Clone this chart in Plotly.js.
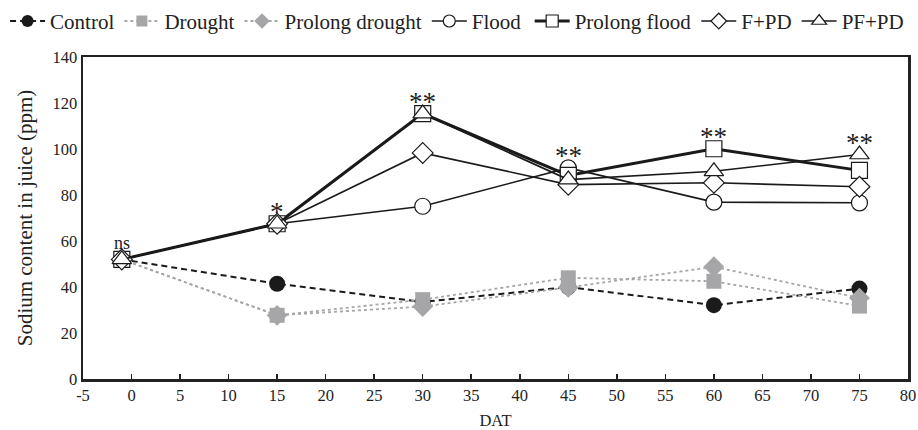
<!DOCTYPE html>
<html><head><meta charset="utf-8">
<script src="https://cdn.plot.ly/plotly-3.0.1.min.js"></script>
<style>html,body{margin:0;padding:0;background:#fff}#chart{width:918px;height:430px}</style>
</head><body><div id="chart"></div>
<script>
const dat = [-1, 15, 30, 45, 60, 75];
const control = [52, 41.4, 33.5, 40, 32.1, 39.3];
const drought = [52, 27.7, 34.5, 44, 42.5, 31.7];
const prolongDrought = [52, 27.7, 31.5, 39.8, 48.8, 35.2];
const flood = [52, 67.5, 75.1, 91.8, 76.9, 76.6];
const prolongFlood = [52, 67.5, 115.4, 88.5, 100.1, 90.7];
const fpd = [52, 67.5, 98.3, 84.5, 85.3, 83.6];
const pfpd = [52, 67.5, 115.4, 86.7, 90.3, 97.6];
const seriesNames = ['Control', 'Drought', 'Prolong drought', 'Flood', 'Prolong flood', 'F+PD', 'PF+PD'];
const sigLabels = ['ns', '*', '**', '**', '**', '**'];
const xTickVals = [-5,0,5,10,15,20,25,30,35,40,45,50,55,60,65,70,75,80];
const xTickText = ['-5','0','5','10','15','20','25','30','35','40','45','50','55','60','65','70','75','80'];

const font = 'Liberation Serif, Times New Roman, serif';
const grey = '#a6a6a8';
const ink = '#1a1a1a';
const styles = [
  {line:{color:ink, width:2, dash:'6px,4px'}, marker:{symbol:'circle', size:16, color:ink}},
  {line:{color:grey, width:1.8, dash:'dot'}, marker:{symbol:'square', size:15, color:grey}},
  {line:{color:grey, width:1.8, dash:'dot'}, marker:{symbol:'diamond', size:16, color:grey}},
  {line:{color:ink, width:1.6}, marker:{symbol:'circle', size:16, color:'#fff', line:{color:ink, width:1.2}}},
  {line:{color:ink, width:3}, marker:{symbol:'square', size:16, color:'#fff', line:{color:ink, width:1.2}}},
  {line:{color:ink, width:1.6}, marker:{symbol:'diamond', size:16, color:'#fff', line:{color:ink, width:1.2}}},
  {line:{color:ink, width:1.6}, marker:{symbol:'triangle-up', size:17, color:'#fff', line:{color:ink, width:1.2}}}
];
const groups = [control, drought, prolongDrought, flood, prolongFlood, fpd, pfpd];
const traces = groups.map((g, k) => ({
  x: dat, y: g, name: seriesNames[k], type: 'scatter', mode: 'lines+markers',
  line: styles[k].line, marker: styles[k].marker, showlegend: false
}));
// legend entries with smaller marker samples (no data points drawn), split over two legend boxes
groups.forEach((g, k) => {
  const m = Object.assign({}, styles[k].marker, {size: Math.round(styles[k].marker.size * 0.75)});
  traces.push({x: [null], y: [null], name: seriesNames[k], type: 'scatter', mode: 'lines+markers',
               line: styles[k].line, marker: m, showlegend: true, legend: k < 4 ? 'legend' : 'legend2'});
});

const annotations = dat.map((d, i) => ({
  x: d, y: Math.max(...groups.map(g => g[i])), text: sigLabels[i], showarrow: false,
  yanchor: 'bottom', yshift: i === 0 ? 4 : -5,
  font: {family: font, size: i === 0 ? 18 : 27, color: '#222'}
}));

const legendBase = {orientation: 'h', xref: 'container', xanchor: 'left', y: 0.998, yref: 'container', yanchor: 'top',
                    font: {family: font, size: 21, color: '#222'}, itemwidth: 35, tracegroupgap: 0,
                    bgcolor: 'rgba(0,0,0,0)'};
const layout = {
  width: 918, height: 430,
  margin: {l: 83, r: 10, t: 57, b: 51},
  paper_bgcolor: '#fff', plot_bgcolor: '#fff',
  font: {family: font, color: '#222', size: 16},
  showlegend: true,
  legend: Object.assign({}, legendBase, {x: 0.0055}),
  legend2: Object.assign({}, legendBase, {x: 0.577}),
  xaxis: {range: [-5, 80], tickvals: xTickVals, ticktext: xTickText, ticks: 'inside', ticklen: 5, tickwidth: 1.5, tickcolor: '#222',
          showline: true, linecolor: '#222', linewidth: 2.5, mirror: true, showgrid: false, zeroline: false,
          tickfont: {family: font, size: 16.5, color: '#222'},
          title: {text: 'DAT', font: {family: font, size: 16.5, color: '#222'}, standoff: 11}},
  yaxis: {range: [0, 140], dtick: 20, ticks: '', showline: true, linecolor: '#222', linewidth: 2.5, mirror: true,
          showgrid: false, zeroline: false, tickfont: {family: font, size: 16.5, color: '#222'},
          title: {text: 'Sodium content in juice (ppm)', font: {family: font, size: 21, color: '#222'}, standoff: 14}},
  annotations: annotations
};
Plotly.newPlot('chart', traces, layout, {displayModeBar: false, staticPlot: true});
</script></body></html>
